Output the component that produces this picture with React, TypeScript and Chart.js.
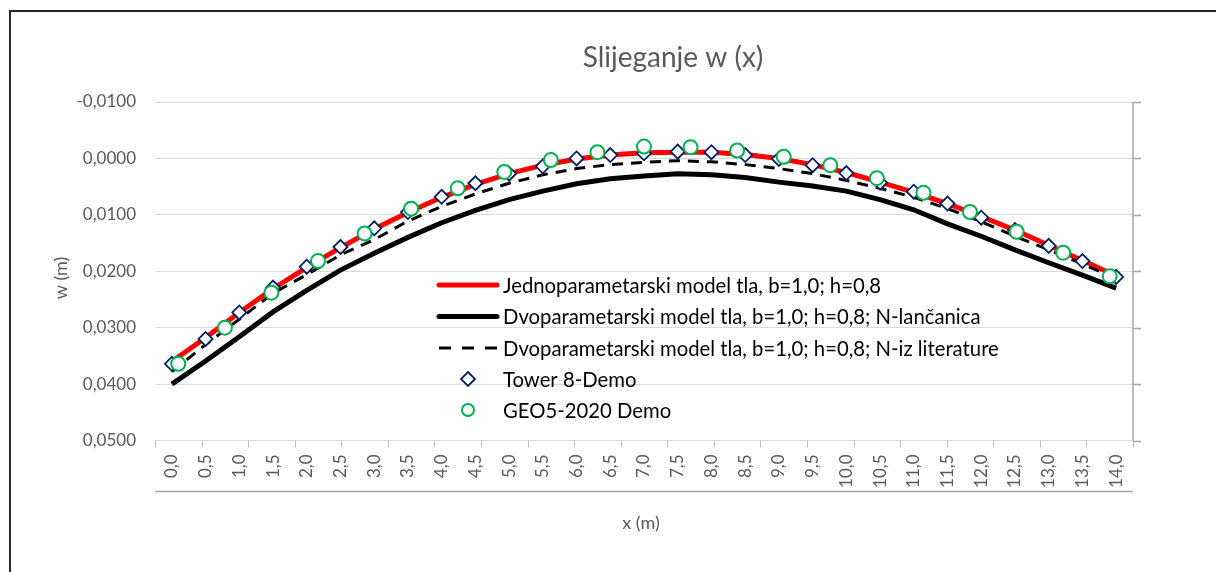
import React, { useEffect, useRef } from 'react';
import { Chart, registerables } from 'chart.js';

Chart.register(...registerables);

const TITLE = 'Slijeganje w (x)';
const X_TITLE = 'x (m)';
const Y_TITLE = 'w (m)';

// x positions (m) of the 29 category labels
const xLabels = [0, 0.5, 1, 1.5, 2, 2.5, 3, 3.5, 4, 4.5, 5, 5.5, 6, 6.5, 7, 7.5, 8, 8.5, 9, 9.5, 10, 10.5, 11, 11.5, 12, 12.5, 13, 13.5, 14];

const redW = [0.0360, 0.0318, 0.0273, 0.0231, 0.0193, 0.0158, 0.0125, 0.0096, 0.0069, 0.0046, 0.0027, 0.0012, 0.0001, -0.0006, -0.0010, -0.0011, -0.0011, -0.0007, 0.0000, 0.0011, 0.0025, 0.0042, 0.0060, 0.0080, 0.0103, 0.0127, 0.0154, 0.0181, 0.0208];
const blackW = [0.0400, 0.0359, 0.0316, 0.0272, 0.0234, 0.0198, 0.0168, 0.0140, 0.0114, 0.0092, 0.0073, 0.0058, 0.0045, 0.0036, 0.0031, 0.0027, 0.0029, 0.0034, 0.0042, 0.0049, 0.0058, 0.0073, 0.0091, 0.0116, 0.0138, 0.0162, 0.0185, 0.0207, 0.0230];
const dashedW = [0.0378, 0.0330, 0.0285, 0.0239, 0.0206, 0.0171, 0.0144, 0.0111, 0.0085, 0.0063, 0.0044, 0.0029, 0.0018, 0.0011, 0.0007, 0.0004, 0.0006, 0.0011, 0.0018, 0.0027, 0.0039, 0.0053, 0.0069, 0.0089, 0.0112, 0.0138, 0.0162, 0.0187, 0.0213];
const towerW = [0.0364, 0.0320, 0.0273, 0.0229, 0.0192, 0.0157, 0.0124, 0.0095, 0.0068, 0.0044, 0.0027, 0.0014, 0.0000, -0.0006, -0.0009, -0.0012, -0.0011, -0.0006, 0.0001, 0.0012, 0.0026, 0.0043, 0.0059, 0.0080, 0.0105, 0.0127, 0.0155, 0.0182, 0.0210];

// GEO5 points on their own (secondary) category axis
const geoX = [0, 0.7, 1.4, 2.1, 2.8, 3.5, 4.2, 4.9, 5.6, 6.3, 7, 7.7, 8.4, 9.1, 9.8, 10.5, 11.2, 11.9, 12.6, 13.3, 14];
const geoW = [0.0364, 0.0300, 0.0238, 0.0182, 0.0133, 0.0089, 0.0053, 0.0024, 0.0003, -0.0011, -0.0021, -0.0020, -0.0014, -0.0003, 0.0012, 0.0035, 0.0061, 0.0095, 0.0130, 0.0167, 0.0209];

const yTicks = [-0.01, 0, 0.01, 0.02, 0.03, 0.04, 0.05];

const seriesNames = [
  'Jednoparametarski model tla, b=1,0; h=0,8',
  'Dvoparametarski model tla, b=1,0; h=0,8; N-lančanica',
  'Dvoparametarski model tla, b=1,0; h=0,8; N-iz literature',
  'Tower 8-Demo',
  'GEO5-2020 Demo',
];

const FONT = 'Lato, "Open Sans", sans-serif';
const GRAY = '#595959';
const NAVY = '#002060';
const GREEN = '#00b050';

const fmtY = (v: number) => {
  const s = Math.abs(v).toFixed(4).replace('.', ',');
  return (v < -1e-12 ? '-' : '') + s;
};
const fmtX = (v: number) => v.toFixed(1).replace('.', ',');

const deco = {
  id: 'deco',
  afterDraw(chart: any) {
    const { ctx, chartArea: ca, scales } = chart;
    const y = scales.y;
    const x2 = scales.x2;
    ctx.save();

    // outer chart border
    ctx.strokeStyle = '#262626';
    ctx.lineWidth = 2;
    ctx.strokeRect(10, 11, 1400, 900);

    // title
    ctx.fillStyle = GRAY;
    ctx.font = `28px ${FONT}`;
    ctx.textAlign = 'center';
    ctx.textBaseline = 'alphabetic';
    ctx.fillText(TITLE, 673, 67);

    // axis titles
    ctx.font = `18px ${FONT}`;
    ctx.textBaseline = 'middle';
    ctx.fillText(X_TITLE, 641, 523);
    ctx.save();
    ctx.translate(61, 278);
    ctx.rotate(-Math.PI / 2);
    ctx.fillText(Y_TITLE, 0, 0);
    ctx.restore();

    // tick marks of the secondary category axis (GEO5)
    const bounds: number[] = [x2.min];
    for (let i = 0; i < geoX.length - 1; i++) bounds.push((geoX[i] + geoX[i + 1]) / 2);
    bounds.push(x2.max);
    ctx.strokeStyle = '#bfbfbf';
    ctx.lineWidth = 1;
    bounds.forEach((v) => {
      const px = Math.round(x2.getPixelForValue(v)) + 0.5;
      ctx.beginPath();
      ctx.moveTo(px, ca.bottom);
      ctx.lineTo(px, ca.bottom + 7);
      ctx.stroke();
    });

    // lower axis line beneath the labels
    ctx.strokeStyle = '#a6a6a6';
    ctx.lineWidth = 1.5;
    ctx.beginPath();
    ctx.moveTo(ca.left, ca.bottom + 51);
    ctx.lineTo(ca.right, ca.bottom + 51);
    ctx.stroke();

    // right vertical axis with ticks
    ctx.beginPath();
    ctx.moveTo(ca.right, ca.top);
    ctx.lineTo(ca.right, ca.bottom);
    ctx.stroke();
    yTicks.forEach((v) => {
      const py = Math.round(y.getPixelForValue(v)) + 0.5;
      ctx.beginPath();
      ctx.moveTo(ca.right, py);
      ctx.lineTo(ca.right + 8, py);
      ctx.stroke();
    });

    // legend
    const rows = [285, 316.5, 348, 379, 410];
    const sx0 = 439, sx1 = 497, mx = 468, tx = 503;
    ctx.font = `20.3px ${FONT}`;
    ctx.textAlign = 'left';
    ctx.textBaseline = 'middle';
    rows.forEach((ry, i) => {
      ctx.save();
      if (i === 0 || i === 1) {
        ctx.strokeStyle = i === 0 ? '#ff0000' : '#000000';
        ctx.lineWidth = 5;
        ctx.lineCap = 'round';
        ctx.beginPath();
        ctx.moveTo(sx0, ry);
        ctx.lineTo(sx1, ry);
        ctx.stroke();
      } else if (i === 2) {
        ctx.strokeStyle = '#000000';
        ctx.lineWidth = 3;
        ctx.setLineDash([12, 11]);
        ctx.beginPath();
        ctx.moveTo(sx0, ry);
        ctx.lineTo(sx1, ry);
        ctx.stroke();
      } else if (i === 3) {
        ctx.strokeStyle = NAVY;
        ctx.fillStyle = '#ffffff';
        ctx.lineWidth = 1.8;
        ctx.beginPath();
        ctx.moveTo(mx, ry - 7);
        ctx.lineTo(mx + 7, ry);
        ctx.lineTo(mx, ry + 7);
        ctx.lineTo(mx - 7, ry);
        ctx.closePath();
        ctx.fill();
        ctx.stroke();
      } else {
        ctx.strokeStyle = GREEN;
        ctx.fillStyle = '#ffffff';
        ctx.lineWidth = 2;
        ctx.beginPath();
        ctx.arc(mx, ry, 6, 0, Math.PI * 2);
        ctx.fill();
        ctx.stroke();
      }
      ctx.restore();
      ctx.fillStyle = '#000000';
      ctx.fillText(seriesNames[i], tx, ry + 1);
    });

    ctx.restore();
  },
};

export default function App() {
  const canvasRef = useRef<HTMLCanvasElement | null>(null);

  useEffect(() => {
    const canvas = canvasRef.current;
    if (!canvas) return;
    const pts = (xs: number[], ys: number[]) => xs.map((x, i) => ({ x, y: ys[i] }));

    const chart = new Chart(canvas, {
      type: 'line',
      data: {
        datasets: [
          {
            label: seriesNames[0],
            data: pts(xLabels, redW),
            xAxisID: 'x',
            borderColor: '#ff0000',
            borderWidth: 5,
            pointRadius: 0,
            tension: 0,
            order: 4,
          },
          {
            label: seriesNames[1],
            data: pts(xLabels, blackW),
            xAxisID: 'x',
            borderColor: '#000000',
            borderWidth: 5,
            pointRadius: 0,
            tension: 0,
            order: 3,
          },
          {
            label: seriesNames[2],
            data: pts(xLabels, dashedW),
            xAxisID: 'x',
            borderColor: '#000000',
            borderWidth: 3,
            borderDash: [11, 8],
            pointRadius: 0,
            tension: 0,
            order: 2,
          },
          {
            label: seriesNames[3],
            data: pts(xLabels, towerW),
            xAxisID: 'x',
            showLine: false,
            pointStyle: 'rectRot',
            pointRadius: 7,
            pointBorderWidth: 1.8,
            pointBorderColor: NAVY,
            pointBackgroundColor: '#ffffff',
            borderColor: NAVY,
            backgroundColor: '#ffffff',
            order: 1,
          },
          {
            label: seriesNames[4],
            data: pts(geoX, geoW),
            xAxisID: 'x2',
            showLine: false,
            pointStyle: 'circle',
            pointRadius: 7,
            pointBorderWidth: 2,
            pointBorderColor: GREEN,
            pointBackgroundColor: '#ffffff',
            borderColor: GREEN,
            backgroundColor: '#ffffff',
            order: 0,
          },
        ],
      },
      options: {
        animation: false,
        responsive: false,
        events: [],
        layout: { padding: { top: 102, right: 83, left: 0, bottom: 0 } },
        plugins: {
          legend: { display: false },
          tooltip: { enabled: false },
          title: { display: false },
        },
        scales: {
          x: {
            type: 'linear',
            position: 'bottom',
            min: -0.25,
            max: 14.25,
            grid: { display: false, drawTicks: false },
            border: { display: false },
            afterBuildTicks: (s: any) => {
              s.ticks = xLabels.map((v) => ({ value: v }));
            },
            afterFit: (s: any) => {
              s.height = 131.5;
            },
            ticks: {
              autoSkip: false,
              minRotation: 90,
              maxRotation: 90,
              padding: 14,
              color: GRAY,
              font: { family: FONT, size: 17 },
              callback: (v: any) => fmtX(Number(v)),
            },
          },
          x2: {
            type: 'linear',
            position: 'bottom',
            display: false,
            min: -0.35,
            max: 14.35,
          },
          y: {
            type: 'linear',
            position: 'left',
            reverse: true,
            min: -0.01,
            max: 0.05,
            grid: { color: '#d9d9d9', lineWidth: 1, drawTicks: false },
            border: { display: false },
            afterBuildTicks: (s: any) => {
              s.ticks = yTicks.map((v) => ({ value: v }));
            },
            afterFit: (s: any) => {
              s.width = 155;
            },
            ticks: {
              padding: 19,
              color: GRAY,
              font: { family: FONT, size: 17 },
              callback: (v: any) => fmtY(Number(v)),
            },
          },
        },
      },
      plugins: [deco],
    } as any);

    return () => chart.destroy();
  }, []);

  return (
    <div style={{ position: 'fixed', left: 0, top: 0, width: 1216, height: 572, background: '#ffffff' }}>
      <canvas ref={canvasRef} width={1216} height={572} style={{ display: 'block' }} />
    </div>
  );
}
